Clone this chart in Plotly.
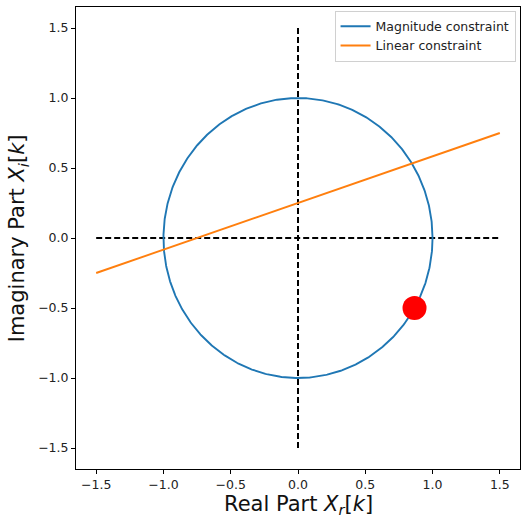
import numpy as np
import plotly.graph_objects as go

# Data
radius = 1.0
theta = np.linspace(0, 2 * np.pi, 721)
circle_x = radius * np.cos(theta)
circle_y = radius * np.sin(theta)

linear_x = [-1.5, 1.5]
linear_y = [-0.25, 0.75]

hline_x = [-1.5, 1.5]
hline_y = [0.0, 0.0]
vline_x = [0.0, 0.0]
vline_y = [-1.5, 1.5]

point_x = [0.866]
point_y = [-0.5]

tick_vals = [-1.5, -1.0, -0.5, 0.0, 0.5, 1.0, 1.5]

fig = go.Figure()
fig.add_trace(go.Scatter(x=hline_x, y=hline_y, mode="lines",
                         line=dict(color="black", width=2, dash="6px,3px"), showlegend=False))
fig.add_trace(go.Scatter(x=vline_x, y=vline_y, mode="lines",
                         line=dict(color="black", width=2, dash="6px,3px"), showlegend=False))
fig.add_trace(go.Scatter(x=circle_x, y=circle_y, mode="lines", name="Magnitude constraint",
                         line=dict(color="#1f77b4", width=1.9)))
fig.add_trace(go.Scatter(x=linear_x, y=linear_y, mode="lines", name="Linear constraint",
                         line=dict(color="#ff7f0e", width=1.9)))
fig.add_trace(go.Scatter(x=point_x, y=point_y, mode="markers", showlegend=False,
                         marker=dict(color="red", size=24, line=dict(width=0))))

axis_common = dict(
    showline=True, linecolor="black", linewidth=1, mirror=True,
    ticks="outside", ticklen=4, tickwidth=1, tickcolor="black",
    showgrid=False, zeroline=False, tickvals=tick_vals, tickformat=".1f",
    tickfont=dict(family="DejaVu Sans", size=12.5, color="#222222"),
    automargin=False,
)

fig.update_layout(
    width=521, height=518,
    margin=dict(l=76, r=1, t=7, b=49, autoexpand=False),
    plot_bgcolor="white", paper_bgcolor="white",
    font=dict(family="DejaVu Sans", color="black"),
    xaxis=dict(range=[-1.65, 1.65], **axis_common),
    yaxis=dict(range=[-1.65, 1.65], **axis_common),
    showlegend=True,
    legend=dict(x=0.99, y=0.992, xanchor="right", yanchor="top",
                bgcolor="rgba(255,255,255,0.8)", bordercolor="#d0d0d0", borderwidth=1,
                font=dict(size=12.5, color="#222222"), tracegroupgap=0, itemwidth=30),
    annotations=[
        dict(text="Real Part <i>X</i><sub><i>r</i></sub>[<i>k</i>]", x=0.5, xref="paper",
             y=-0.078, yref="paper", yanchor="middle", showarrow=False,
             font=dict(size=21, color="#111111")),
        dict(text="Imaginary Part <i>X</i><sub><i>i</i></sub>[<i>k</i>]", x=-0.13, xref="paper",
             y=0.5, yref="paper", xanchor="center", yanchor="middle", textangle=-90,
             showarrow=False, font=dict(size=21, color="#111111")),
    ],
)

fig.write_html("out.html", config={"displayModeBar": False},
               post_script="document.body.style.margin='0';")
